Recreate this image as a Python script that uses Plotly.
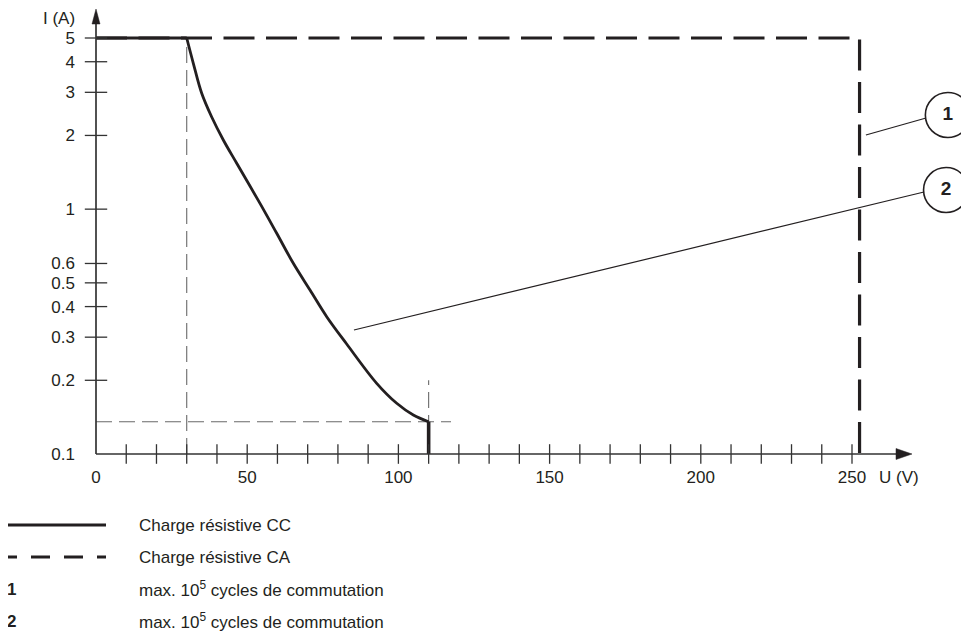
import plotly.graph_objects as go
import math

# ---------------- data ----------------
U_cc = [0, 30, 32.18, 34.95, 38.26, 42.10, 46.53, 54.23, 59.76, 65.24, 70.77, 76.29, 82.90, 92.82, 99.44, 104.93, 110, 110]
I_cc = [5, 5, 3.942, 2.973, 2.378, 1.916, 1.539, 1.056, 0.797, 0.601, 0.4675, 0.3638, 0.2813, 0.1944, 0.1611, 0.1443, 0.1355, 0.1]

U_ca = [0, 252.5, 252.5]
I_ca = [5, 5, 0.1]

guide_v30_U = [30, 30]
guide_v30_I = [0.1, 5]
guide_h_U = [0, 117.4]
guide_h_I = [0.1355, 0.1355]
guide_v110_U = [110, 110]
guide_v110_I = [0.1, 0.2]

x_tick_marks = [10, 20, 30, 40, 50, 60, 70, 80, 90, 100, 110, 120, 130, 140, 150, 160, 170, 180, 190, 200, 210, 220, 230, 240, 250]
x_tick_labels = [0, 50, 100, 150, 200, 250]
y_tick_marks = [0.2, 0.3, 0.4, 0.5, 0.6, 1, 2, 3, 4, 5]
y_tick_labels = [0.1, 0.2, 0.3, 0.4, 0.5, 0.6, 1, 2, 3, 4, 5]

callout_U = [281.7, 281.1]
callout_I = [2.424, 1.197]
callout_text = ["1", "2"]
leader1_U = [254.6, 274.5]
leader1_I = [2.008, 2.356]
leader2_U = [85.3, 273.8]
leader2_I = [0.3209, 1.175]

legend_labels = ["Charge résistive CC", "Charge résistive CA",
                 "max. 10<sup>5</sup> cycles de commutation",
                 "max. 10<sup>5</sup> cycles de commutation"]
legend_keys = ["1", "2"]

# ---------------- layout geometry ----------------
PAGE_OFFSET = 8          # default body margin of the html page
W, H = 969 - PAGE_OFFSET, 633 - PAGE_OFFSET
ML, MT = 96 - PAGE_OFFSET, 10 - PAGE_OFFSET
PW, PH = 873, 444
PX_PER_V = 3.024
X_MAX = PW / PX_PER_V
Y_LOG_MIN = -1
Y_LOG_MAX = math.log10(5) + 28 / 244.85

# helpers: reference-image pixel -> paper coordinates
def px(xp):
    return (xp - 96) / PW

def py(yp):
    return (454 - yp) / PH

DARK = "#231f20"
AXIS = "#333333"
GUIDE = "#6a6a6a"
FONT = "Liberation Sans, Arial, Helvetica, sans-serif"

fig = go.Figure()

guide_style = dict(color=GUIDE, width=1.1, dash="16px,7px")
for gu, gi in [(guide_v30_U, guide_v30_I), (guide_h_U, guide_h_I), (guide_v110_U, guide_v110_I)]:
    fig.add_trace(go.Scatter(x=gu, y=gi, mode="lines", line=guide_style,
                             showlegend=False, hoverinfo="skip"))

# AC resistive load (dashed)
fig.add_trace(go.Scatter(x=U_ca, y=I_ca, mode="lines",
                         line=dict(color=DARK, width=3.2, dash="31px,11.5px"),
                         showlegend=False, hoverinfo="skip"))

# DC resistive load (solid): flat part, curve, vertical drop
fig.add_trace(go.Scatter(x=U_cc[:2], y=I_cc[:2], mode="lines",
                         line=dict(color=DARK, width=3.2),
                         showlegend=False, hoverinfo="skip"))
fig.add_trace(go.Scatter(x=U_cc[1:-1], y=I_cc[1:-1], mode="lines",
                         line=dict(color=DARK, width=2.8, shape="spline", smoothing=1.0),
                         showlegend=False, hoverinfo="skip"))
fig.add_trace(go.Scatter(x=U_cc[-2:], y=I_cc[-2:], mode="lines",
                         line=dict(color=DARK, width=3.6),
                         showlegend=False, hoverinfo="skip"))

# crossing tick marks
fig.add_trace(go.Scatter(x=x_tick_marks, y=[0.1] * len(x_tick_marks), mode="markers",
                         marker=dict(symbol="line-ns", size=14,
                                     line=dict(color=AXIS, width=1.3)),
                         cliponaxis=False, showlegend=False, hoverinfo="skip"))
fig.add_trace(go.Scatter(x=[0] * len(y_tick_marks), y=y_tick_marks, mode="markers",
                         marker=dict(symbol="line-ew", size=16,
                                     line=dict(color=AXIS, width=1.3)),
                         cliponaxis=False, showlegend=False, hoverinfo="skip"))

# leader lines
for lu, li in [(leader1_U, leader1_I), (leader2_U, leader2_I)]:
    fig.add_trace(go.Scatter(x=lu, y=li, mode="lines",
                             line=dict(color=DARK, width=1.2),
                             showlegend=False, hoverinfo="skip"))

# callout circles
fig.add_trace(go.Scatter(x=callout_U, y=callout_I, mode="markers+text",
                         text=["<b>%s</b>" % t for t in callout_text],
                         textposition="middle center",
                         textfont=dict(family=FONT, size=19, color=DARK),
                         marker=dict(symbol="circle", size=45, color="white",
                                     line=dict(color=DARK, width=1.6)),
                         cliponaxis=False, showlegend=False, hoverinfo="skip"))

shapes = []
# axis lines
shapes.append(dict(type="line", xref="paper", yref="paper", x0=0, x1=px(898), y0=0, y1=0,
                   line=dict(color=AXIS, width=1.7)))
shapes.append(dict(type="line", xref="paper", yref="paper", x0=0, x1=0, y0=0, y1=py(22),
                   line=dict(color=AXIS, width=1.7)))
# arrow heads
shapes.append(dict(type="path", xref="paper", yref="paper",
                   path=f"M {px(96)},{py(9)} L {px(92)},{py(24)} L {px(100)},{py(24)} Z",
                   fillcolor=DARK, line=dict(color=DARK, width=0.5)))
shapes.append(dict(type="path", xref="paper", yref="paper",
                   path=f"M {px(912)},{py(454)} L {px(896)},{py(448.5)} L {px(896)},{py(459.5)} Z",
                   fillcolor=DARK, line=dict(color=DARK, width=0.5)))
# legend samples
shapes.append(dict(type="line", xref="paper", yref="paper", x0=px(7), x1=px(106), y0=py(525), y1=py(525),
                   line=dict(color=DARK, width=2.8)))
shapes.append(dict(type="line", xref="paper", yref="paper", x0=px(7), x1=px(106), y0=py(557), y1=py(557),
                   line=dict(color=DARK, width=2.8, dash="10px,14px,19px,14px,19px,14px,10px")))

annotations = []
annotations.append(dict(text="I (A)", xref="paper", yref="paper", x=px(77), y=py(18),
                        xanchor="right", yanchor="middle", showarrow=False,
                        font=dict(family=FONT, size=17, color=DARK)))
annotations.append(dict(text="U (V)", xref="paper", yref="paper", x=px(877), y=py(478),
                        xanchor="left", yanchor="middle", showarrow=False,
                        font=dict(family=FONT, size=17, color=DARK)))
legend_y = [525, 557, 589, 621]
for lab, yy in zip(legend_labels, legend_y):
    annotations.append(dict(text=lab, xref="paper", yref="paper", x=px(137), y=py(yy),
                            xanchor="left", yanchor="middle", showarrow=False,
                            font=dict(family=FONT, size=17, color=DARK)))
for key, yy in zip(legend_keys, legend_y[2:]):
    annotations.append(dict(text="<b>%s</b>" % key, xref="paper", yref="paper", x=px(5), y=py(yy),
                            xanchor="left", yanchor="middle", showarrow=False,
                            font=dict(family=FONT, size=17, color=DARK)))

fig.update_layout(
    width=W, height=H,
    margin=dict(l=ML, r=W - ML - PW, t=MT, b=H - MT - PH, pad=0),
    paper_bgcolor="white", plot_bgcolor="white",
    font=dict(family=FONT, size=17, color=DARK),
    shapes=shapes, annotations=annotations,
    xaxis=dict(range=[0, X_MAX], showgrid=False, zeroline=False, showline=False,
               tickmode="array", tickvals=x_tick_labels,
               ticktext=[str(v) for v in x_tick_labels],
               ticks="", ticklabelstandoff=11,
               tickfont=dict(family=FONT, size=17, color=DARK)),
    yaxis=dict(type="log", range=[Y_LOG_MIN, Y_LOG_MAX], showgrid=False, zeroline=False,
               showline=False, tickmode="array", tickvals=y_tick_labels,
               ticktext=[("%g" % v) for v in y_tick_labels],
               ticks="", ticklabelstandoff=20,
               tickfont=dict(family=FONT, size=17, color=DARK)),
)

fig.write_html("out.html")
